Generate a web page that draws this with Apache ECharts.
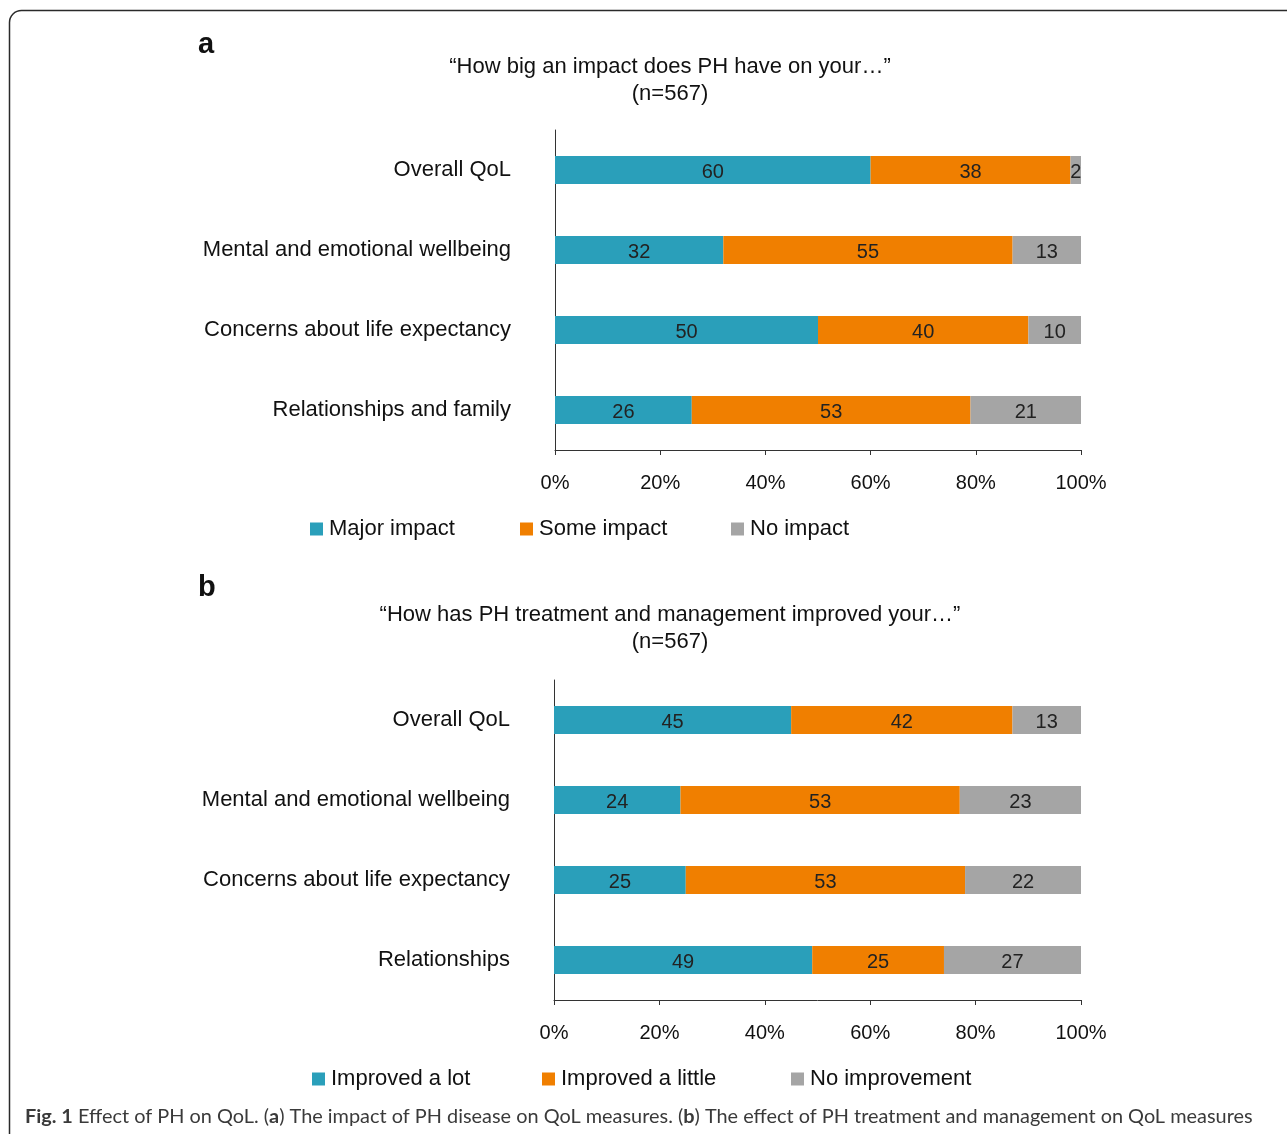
<!DOCTYPE html>
<html><head><meta charset="utf-8">
<script src="https://cdn.jsdelivr.net/npm/echarts@6/dist/echarts.min.js"></script>
<style>html,body{margin:0;padding:0;background:#fff}#c{width:1287px;height:1134px}</style>
</head><body><div id="c"></div>
<script>
const catsA = ['Overall QoL','Mental and emotional wellbeing','Concerns about life expectancy','Relationships and family'];
const majorImpact = [60,32,50,26];
const someImpact = [38,55,40,53];
const noImpact = [2,13,10,21];

const catsB = ['Overall QoL','Mental and emotional wellbeing','Concerns about life expectancy','Relationships'];
const improvedLot = [45,24,25,49];
const improvedLittle = [42,53,53,25];
const noImprovement = [13,23,22,27];

const xTicks = [0,20,40,60,80,100];

const titleA = '\u201cHow big an impact does PH have on your\u2026\u201d';
const titleB = '\u201cHow has PH treatment and management improved your\u2026\u201d';
const nLabel = '(n=567)';

const TEAL = '#2a9fba', ORANGE = '#f07f00', GRAY = '#a5a5a5';
const FONT = '"Liberation Sans", Arial, Helvetica, sans-serif';

const chart = echarts.init(document.getElementById('c'), null, {renderer:'canvas'});

function xAxis(gi){
  return {gridIndex:gi, type:'value', min:0, max:100, interval:20,
    axisLine:{show:true, lineStyle:{color:'#333', width:1}},
    axisTick:{show:true, length:5, lineStyle:{color:'#333'}},
    splitLine:{show:false},
    axisLabel:{formatter: v => xTicks.includes(v) ? v + '%' : '', margin:23, fontSize:20, color:'#111', fontFamily:FONT}
  };
}
function yAxis(gi, cats){
  return {gridIndex:gi, type:'category', data:cats, inverse:true,
    axisLine:{show:true, lineStyle:{color:'#333', width:1}},
    axisTick:{show:false},
    axisLabel:{margin:44, fontSize:22, color:'#111', fontFamily:FONT}
  };
}
function bar(name, data, color, gi){
  return {name, type:'bar', stack:'s'+gi, xAxisIndex:gi, yAxisIndex:gi, data, barWidth:28,
    itemStyle:{color},
    label:{show:true, position:'inside', color:'#222', fontSize:20, fontFamily:FONT, offset:[0,2]},
    emphasis:{disabled:true}
  };
}
function leg(name, left, top){
  return {data:[name], left, top, padding:0, icon:'rect', itemWidth:13, itemHeight:13, itemGap:0,
    textStyle:{fontSize:22, color:'#111', fontFamily:FONT, padding:[0,0,0,1]}, selectedMode:false};
}

chart.setOption({
  animation:false,
  textStyle:{fontFamily:FONT},
  graphic:[{type:'rect', shape:{x:9.5, y:10.5, width:1320, height:1150, r:12}, style:{fill:'none', stroke:'#2a2a2a', lineWidth:1.5}}],
  title:[
    {text:'a', left:198, top:30, padding:0, textStyle:{fontSize:29, fontWeight:'bold', color:'#111', fontFamily:FONT}},
    {text:titleA + '\n' + nLabel, left:670, top:53, padding:0, textAlign:'center', textStyle:{fontSize:22, fontWeight:'normal', color:'#111', lineHeight:27, fontFamily:FONT}},
    {text:'b', left:198, top:573, padding:0, textStyle:{fontSize:29, fontWeight:'bold', color:'#111', fontFamily:FONT}},
    {text:titleB + '\n' + nLabel, left:670, top:601, padding:0, textAlign:'center', textStyle:{fontSize:22, fontWeight:'normal', color:'#111', lineHeight:27, fontFamily:FONT}},
    {text:'{b|Fig. 1} Effect of PH on QoL. ({b|a}) The impact of PH disease on QoL measures. ({b|b}) The effect of PH treatment and management on QoL measures',
     left:25, top:1107, padding:0,
     textStyle:{fontSize:19.9, fontWeight:'normal', color:'#3a3a3a', fontFamily:'Lato, sans-serif',
       rich:{b:{fontWeight:'bold', fontSize:19.9, color:'#3a3a3a', fontFamily:'Lato, sans-serif'}}}}
  ],
  legend:[
    leg('Major impact', 310, 518), leg('Some impact', 520, 518), leg('No impact', 731, 518),
    leg('Improved a lot', 312, 1068), leg('Improved a little', 542, 1068), leg('No improvement', 791, 1068)
  ],
  grid:[
    {left:555, top:130, width:526, height:320, containLabel:false},
    {left:554, top:680, width:527, height:320, containLabel:false}
  ],
  xAxis:[xAxis(0), xAxis(1)],
  yAxis:[yAxis(0, catsA), yAxis(1, catsB)],
  series:[
    bar('Major impact', majorImpact, TEAL, 0),
    bar('Some impact', someImpact, ORANGE, 0),
    bar('No impact', noImpact, GRAY, 0),
    bar('Improved a lot', improvedLot, TEAL, 1),
    bar('Improved a little', improvedLittle, ORANGE, 1),
    bar('No improvement', noImprovement, GRAY, 1)
  ]
});
</script></body></html>
